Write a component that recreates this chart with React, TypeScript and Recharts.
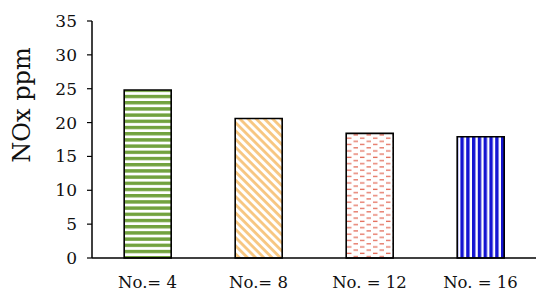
import { BarChart, Bar, XAxis, YAxis, Cell } from 'recharts'

const categories = ['No.= 4', 'No.= 8', 'No. = 12', 'No. = 16']
const noxValues = [24.8, 20.6, 18.4, 17.9]
const yTicks = [0, 5, 10, 15, 20, 25, 30, 35]
const patternIds = ['pat-green', 'pat-orange', 'pat-red', 'pat-blue']

const data = categories.map((name, i) => ({ name, nox: noxValues[i] }))

const FONT = '"DejaVu Serif", "Liberation Serif", serif'
const X_TICK_STYLE = { fontSize: 16.5, fill: '#111', fontFamily: FONT }
const Y_TICK_STYLE = { fontSize: 17, fill: '#111', fontFamily: FONT }

function YTitle({ viewBox }: any) {
  const x = viewBox.x + 14
  const y = viewBox.y + 84
  return (
    <text
      x={x}
      y={y}
      transform={`rotate(-90, ${x}, ${y})`}
      textAnchor="middle"
      dominantBaseline="central"
      style={{ fontSize: 24, fontFamily: FONT, fill: '#111' }}
    >
      NOx ppm
    </text>
  )
}

export default function App() {
  return (
    <BarChart
      width={540}
      height={295}
      data={data}
      margin={{ top: 13, right: 12, left: 0, bottom: 0 }}
      barCategoryGap="29%"
    >
      <defs>
        <pattern id="pat-green" patternUnits="userSpaceOnUse" width={10} height={6.2}>
          <rect width={10} height={6.2} fill="#fff" />
          <rect width={10} height={3.4} fill="#72a23e" />
        </pattern>
        <pattern id="pat-orange" patternUnits="userSpaceOnUse" width={10} height={5.8} patternTransform="rotate(45)">
          <rect width={10} height={5.8} fill="#fff" />
          <rect width={10} height={2.8} fill="#f7c680" />
        </pattern>
        <pattern id="pat-red" patternUnits="userSpaceOnUse" width={13} height={6.4}>
          <rect width={13} height={6.4} fill="#fff" />
          <rect x={1} y={1.5} width={4.5} height={1.3} fill="#e4705e" />
          <rect x={7.5} y={4.7} width={4.5} height={1.3} fill="#e4705e" />
        </pattern>
        <pattern id="pat-blue" patternUnits="userSpaceOnUse" width={5.8} height={10}>
          <rect width={5.8} height={10} fill="#fff" />
          <rect width={3.4} height={10} fill="#1414d2" />
        </pattern>
      </defs>
      <XAxis
        dataKey="name"
        tick={X_TICK_STYLE}
        tickLine={false}
        tickSize={0}
        tickMargin={18}
        axisLine={{ stroke: '#000', strokeWidth: 1.5 }}
        height={45}
        interval={0}
      />
      <XAxis
        xAxisId="top"
        orientation="top"
        dataKey="name"
        tick={false}
        tickLine={false}
        axisLine={{ stroke: '#333', strokeWidth: 1.2 }}
        height={0}
      />
      <YAxis
        domain={[0, 35]}
        ticks={yTicks}
        tick={Y_TICK_STYLE}
        tickSize={5}
        tickMargin={10}
        tickLine={{ stroke: '#000', strokeWidth: 1.2 }}
        axisLine={{ stroke: '#000', strokeWidth: 1.5 }}
        width={84}
        label={<YTitle />}
      />
      <YAxis
        yAxisId="right"
        orientation="right"
        domain={[0, 35]}
        tick={false}
        tickLine={false}
        axisLine={{ stroke: '#333', strokeWidth: 1.2 }}
        width={0}
      />
      <Bar dataKey="nox" stroke="#000" strokeWidth={1.6} isAnimationActive={false}>
        {data.map((d, i) => (
          <Cell key={d.name} fill={`url(#${patternIds[i]})`} />
        ))}
      </Bar>
    </BarChart>
  )
}
